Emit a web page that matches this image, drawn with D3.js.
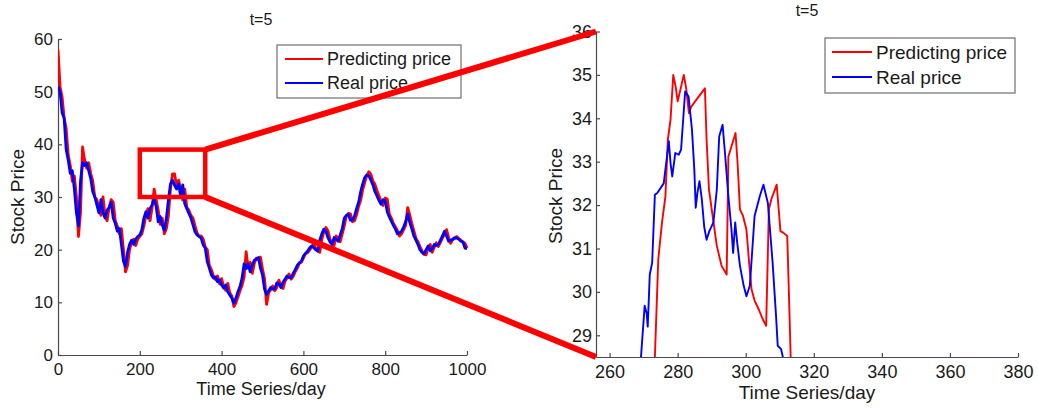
<!DOCTYPE html>
<html>
<head>
<meta charset="utf-8">
<script src="https://cdn.jsdelivr.net/npm/d3@7"></script>
<style>
  html, body { margin: 0; padding: 0; background: #fff; }
  svg { display: block; }
  text { font-family: "Liberation Sans", Arial, sans-serif; fill: #1a1a1a; }
</style>
</head>
<body>
<svg id="chart" width="1039" height="408"></svg>
<script>
// ---------- DATA ----------
const title = "t=5";
const seriesNames = ["Predicting price", "Real price"];
const xLabel = "Time Series/day";
const yLabel = "Stock Price";

// Left panel: full series, one value every 5 days (0..1000)
const realPrice = [
  51, 50, 46, 45, 39, 37, 34.5, 35, 31.5, 27, 24.5, 33, 36.5, 36, 36.5, 35, 33.5, 31, 30, 28.5,
  27, 29.5, 27, 26, 27.5, 28, 29, 26, 25, 23.5, 24, 21, 17.8, 16.8, 19.5, 21, 21.8, 21, 22, 22.5,
  22.8, 23.8, 26, 27.2, 26, 27.8, 28.5, 29.7, 28.2, 25.3, 26.3, 24.7, 23.7, 26, 29.5, 32.5, 33.2, 32.2, 31.5, 32.5,
  30, 32.3, 28.7, 27.8, 26.9, 26, 24.7, 23.4, 22.8, 22.5, 22.2, 20.9, 20.3, 17.7, 16.5, 15.2, 14.6, 14.8, 13.9, 14.3,
  13.3, 12.7, 13.3, 12, 11.4, 10.8, 9.9, 10.8, 12, 13, 14.6, 17.3, 16.4, 17.3, 15.8, 17.1, 18, 18.2, 18.5, 16.5,
  15.2, 12.5, 11.5, 12.2, 12.8, 12.5, 12.6, 13.7, 13.5, 12.8, 13.8, 14.4, 15, 14.7, 14.7, 15.5, 16.2, 17, 17.5, 17.8,
  18.8, 19.3, 19.7, 20.3, 20.7, 20.4, 20, 19.7, 21.8, 23, 23.9, 23.5, 22.3, 21.5, 21, 22.3, 22, 21.6, 22.8, 24,
  26, 26.5, 26.7, 25.6, 25.6, 26.4, 27.8, 29, 31, 32.5, 33.7, 34.2, 34, 33.2, 32.3, 31, 30.2, 29.3, 28.6, 29.5,
  29.3, 27.2, 26.2, 25.4, 24.6, 23.9, 23, 23.2, 23.5, 24.3, 25.3, 26.8, 25.2, 24, 22.6, 21.8, 21, 20, 19.5, 19.2,
  20, 20.7, 19.8, 20.2, 21, 20.8, 21, 21.8, 22.6, 23.5, 22.6, 21.6, 21.8, 22, 22.3, 22.2, 22, 21.6, 21.5, 20.3,
  20.2
];
const predictedPrice = [
  58, 51, 49, 45, 43, 38, 36, 33, 34, 30, 22.5, 27, 39.5, 37, 35.5, 36.5, 34.5, 33, 30, 29.5,
  28, 26.5, 30, 26.5, 25.5, 28, 29.5, 29, 25.5, 24.5, 23, 24, 20, 15.8, 17, 20, 21.5, 22, 20.8, 22,
  22.5, 23, 24.5, 26.5, 27.8, 25.5, 28, 31.5, 29.5, 27.5, 24.8, 26, 23, 24, 26.5, 31.6, 34.4, 34.4, 31.9, 33.2,
  31.4, 29.4, 31.5, 28, 27.5, 26.5, 26, 24.5, 23.2, 22.5, 22.6, 22, 20.5, 20, 17, 16.2, 15, 14.3, 15, 13.5,
  14.5, 13, 12.3, 13.6, 11.8, 11.2, 9.2, 9.9, 11, 12.2, 13.2, 14.8, 19.6, 16.5, 17.6, 15.5, 17.4, 18.4, 18.1, 18.6,
  16.3, 14.5, 9.6, 11.8, 12.4, 13.1, 12.2, 12.8, 14.2, 13.3, 12.6, 14, 14.6, 15.4, 14.4, 14.9, 15.8, 16.5, 17.4, 17.6,
  18.4, 19.2, 19.4, 19.9, 20.5, 21, 20.3, 19.8, 19.5, 22, 23.3, 24.2, 23.6, 22, 21.3, 20.8, 22.6, 22.2, 21.5, 23,
  24.5, 26.4, 26.9, 26.8, 25.3, 25.5, 26.6, 28.2, 29.4, 31.4, 32.8, 34, 34.8, 34.3, 33, 32.4, 31.2, 30.2, 29.2, 28.4,
  29.8, 29.6, 26.8, 26, 25, 24.3, 23.6, 22.6, 23, 23.8, 24.6, 28, 26.6, 25, 23.6, 22.2, 21.5, 20.6, 19.8, 19.1,
  19, 20.4, 21, 19.5, 20.5, 21.3, 20.6, 21.4, 22.2, 22.9, 23.8, 22.3, 21.2, 21.9, 22.1, 22.5, 22.1, 21.8, 21.4, 21.2,
  20.3
];
const dayStep = 5;

// Right panel: zoomed view (day, price)
const zoomRealDays   = [268.6, 269.4, 270.3, 270.9, 271.2, 271.8, 272.5, 273.3, 274, 275.9, 277.4, 277.9, 278.4, 279.3, 280.3, 281, 282.2, 283.2, 284.2, 284.9, 285.3, 285.8, 286.4, 287.1, 287.8, 288.5, 289.3, 290.5, 291.5, 292.2, 293.2, 293.9, 294.9, 295.8, 296.3, 296.9, 297.5, 298.3, 299.4, 300.2, 301.2, 302.6, 304.1, 305.2, 306.5, 307.9, 308.9, 309.4, 310.4, 310.9, 311.5];
const zoomRealVals   = [27.8, 28.7, 29.68, 29.5, 29.2, 30.4, 30.67, 32.24, 32.28, 32.5, 33.47, 32.97, 32.66, 33.2, 33.16, 33.28, 34.62, 34.5, 33.74, 32.8, 31.94, 32.28, 32.55, 32.13, 31.5, 31.2, 31.4, 31.6, 32.36, 33.58, 33.85, 33.2, 32.2, 31.44, 30.9, 31.6, 31.13, 30.6, 30.14, 29.9, 30.14, 31.75, 32.2, 32.47, 32.05, 30.67, 29.45, 28.76, 28.68, 28.5, 27.8];
const zoomPredDays   = [272.8, 273.3, 274.3, 275.4, 276.4, 277.1, 277.9, 278.7, 279.4, 280, 280.8, 281.8, 282.5, 283.3, 284, 285.8, 288, 288.5, 289.2, 290, 291.5, 292.9, 294.4, 294.9, 295.8, 297, 297.6, 298.3, 299.2, 300.2, 301, 301.7, 302.6, 303.8, 305, 306, 306.8, 307.5, 309.1, 310.2, 311.1, 312.2, 312.9, 313.2, 313.5];
const zoomPredVals   = [27.8, 28.5, 30.75, 31.6, 32.2, 33.5, 33.97, 35.0, 34.73, 34.39, 34.66, 35.0, 34.69, 34.12, 34.27, 34.46, 34.69, 33.5, 32.36, 31.9, 31.06, 30.6, 30.4, 33.12, 33.35, 33.66, 32.97, 31.9, 31.75, 31.44, 30.67, 30.06, 29.8, 29.6, 29.37, 29.22, 31.9, 32.13, 32.47, 31.4, 31.36, 31.29, 29.37, 28.5, 27.8];

// Axis setup
const leftXDomain = [0, 1000], leftYDomain = [0, 60];
const leftXTicks = [0, 200, 400, 600, 800, 1000];
const leftYTicks = [0, 10, 20, 30, 40, 50, 60];
const rightXDomain = [256, 380], rightYDomain = [28.5, 36];
const rightXTicks = [260, 280, 300, 320, 340, 360, 380];
const rightYTicks = [29, 30, 31, 32, 33, 34, 35, 36];

// Zoom annotation box on left panel (days, price)
const zoomBoxDays = [200, 360];
const zoomBoxPrices = [30, 39];

// ---------- DRAW ----------
const RED = "#ff0000", BLUE = "#0000ff", AXIS = "#4a4a4a";
const svg = d3.select("#chart");

const L = { x0: 58, x1: 467, y0: 39, y1: 355 };
const R = { x0: 596, x1: 1018, y0: 31.5, y1: 357 };

const lx = d3.scaleLinear().domain(leftXDomain).range([L.x0, L.x1]);
const ly = d3.scaleLinear().domain(leftYDomain).range([L.y1, L.y0]);
const rx = d3.scaleLinear().domain(rightXDomain).range([R.x0, R.x1]);
const ry = d3.scaleLinear().domain(rightYDomain).range([R.y1, R.y0]);

const defs = svg.append("defs");
defs.append("clipPath").attr("id", "clipL").append("rect")
  .attr("x", L.x0).attr("y", L.y0 - 5).attr("width", L.x1 - L.x0 + 2).attr("height", L.y1 - L.y0 + 5);
defs.append("clipPath").attr("id", "clipR").append("rect")
  .attr("x", R.x0).attr("y", R.y0).attr("width", R.x1 - R.x0).attr("height", R.y1 - R.y0);

function styleAxis(g, fs) {
  g.select(".domain").attr("stroke", AXIS).attr("stroke-width", 1.2);
  g.selectAll(".tick line").attr("stroke", AXIS).attr("stroke-width", 1.2);
  g.selectAll(".tick text").attr("font-size", fs).attr("fill", "#1a1a1a")
    .attr("font-family", '"Liberation Sans", Arial, sans-serif');
}

// Left panel axes
svg.append("g").attr("transform", `translate(0,${L.y1})`)
  .call(d3.axisBottom(lx).tickValues(leftXTicks).tickSizeInner(-4).tickSizeOuter(0).tickPadding(8).tickFormat(d3.format("d")))
  .call(g => styleAxis(g, 17));
svg.append("g").attr("transform", `translate(${L.x0},0)`)
  .call(d3.axisLeft(ly).tickValues(leftYTicks).tickSizeInner(-4).tickSizeOuter(0).tickPadding(5).tickFormat(d3.format("d")))
  .call(g => styleAxis(g, 17));

// Right panel axes
svg.append("g").attr("transform", `translate(0,${R.y1})`)
  .call(d3.axisBottom(rx).tickValues(rightXTicks).tickSizeInner(-4).tickSizeOuter(0).tickPadding(8).tickFormat(d3.format("d")))
  .call(g => styleAxis(g, 18));
svg.append("g").attr("transform", `translate(${R.x0},0)`)
  .call(d3.axisLeft(ry).tickValues(rightYTicks).tickSizeInner(-4).tickSizeOuter(0).tickPadding(4).tickFormat(d3.format("d")))
  .call(g => styleAxis(g, 18));

// Left panel lines
const leftLine = d3.line().x((d, i) => lx(i * dayStep)).y(d => ly(d));
const gL = svg.append("g").attr("clip-path", "url(#clipL)");
gL.append("path").attr("d", leftLine(predictedPrice)).attr("fill", "none")
  .attr("stroke", RED).attr("stroke-width", 2.8).attr("stroke-linejoin", "round");
gL.append("path").attr("d", leftLine(realPrice)).attr("fill", "none")
  .attr("stroke", BLUE).attr("stroke-width", 2.8).attr("stroke-linejoin", "round");

// Right panel lines
const gR = svg.append("g").attr("clip-path", "url(#clipR)");
const predPts = zoomPredDays.map((d, i) => [d, zoomPredVals[i]]);
const realPts = zoomRealDays.map((d, i) => [d, zoomRealVals[i]]);
const rLine = d3.line().x(d => rx(d[0])).y(d => ry(d[1]));
gR.append("path").attr("d", rLine(predPts)).attr("fill", "none")
  .attr("stroke", RED).attr("stroke-width", 1.9).attr("stroke-linejoin", "round");
gR.append("path").attr("d", rLine(realPts)).attr("fill", "none")
  .attr("stroke", BLUE).attr("stroke-width", 1.9).attr("stroke-linejoin", "round");

// Titles
svg.append("text").attr("x", 261).attr("y", 25).attr("text-anchor", "middle").attr("font-size", 16).text(title);
svg.append("text").attr("x", 807).attr("y", 16).attr("text-anchor", "middle").attr("font-size", 16).text(title);

// Axis labels
svg.append("text").attr("x", 261).attr("y", 395).attr("text-anchor", "middle").attr("font-size", 18).text(xLabel);
svg.append("text").attr("transform", `translate(24,197) rotate(-90)`).attr("text-anchor", "middle").attr("font-size", 19).text(yLabel);
svg.append("text").attr("x", 807).attr("y", 399).attr("text-anchor", "middle").attr("font-size", 19).text(xLabel);
svg.append("text").attr("transform", `translate(562,196) rotate(-90)`).attr("text-anchor", "middle").attr("font-size", 19).text(yLabel);

// Legends
function legend(x, y, w, h, lineX0, lineX1, textX, rowYs, fs) {
  const g = svg.append("g");
  g.append("rect").attr("x", x).attr("y", y).attr("width", w).attr("height", h)
    .attr("fill", "#fff").attr("stroke", "#6e6e6e").attr("stroke-width", 1.2);
  [RED, BLUE].forEach((c, i) => {
    g.append("line").attr("x1", lineX0).attr("x2", lineX1).attr("y1", rowYs[i]).attr("y2", rowYs[i])
      .attr("stroke", c).attr("stroke-width", 1.8);
    g.append("text").attr("x", textX).attr("y", rowYs[i]).attr("dy", "0.35em")
      .attr("font-size", fs).text(seriesNames[i]);
  });
}
legend(277, 45, 184, 53, 285, 323, 327, [59, 83], 18);
legend(825, 38, 190, 55, 832, 872, 876, [52, 77], 19);

// Zoom annotation: box + connectors
const bx0 = lx(zoomBoxDays[0]), bx1 = lx(zoomBoxDays[1]);
const by0 = ly(zoomBoxPrices[1]), by1 = ly(zoomBoxPrices[0]);
svg.append("rect").attr("x", bx0).attr("y", by0).attr("width", bx1 - bx0).attr("height", by1 - by0)
  .attr("fill", "none").attr("stroke", RED).attr("stroke-width", 4.5);
svg.append("line").attr("x1", bx1).attr("y1", by0).attr("x2", rx(rightXDomain[0])).attr("y2", ry(rightYDomain[1]))
  .attr("stroke", RED).attr("stroke-width", 6);
svg.append("line").attr("x1", bx1).attr("y1", by1).attr("x2", rx(rightXDomain[0])).attr("y2", ry(rightYDomain[0]))
  .attr("stroke", RED).attr("stroke-width", 6);
</script>
</body>
</html>
